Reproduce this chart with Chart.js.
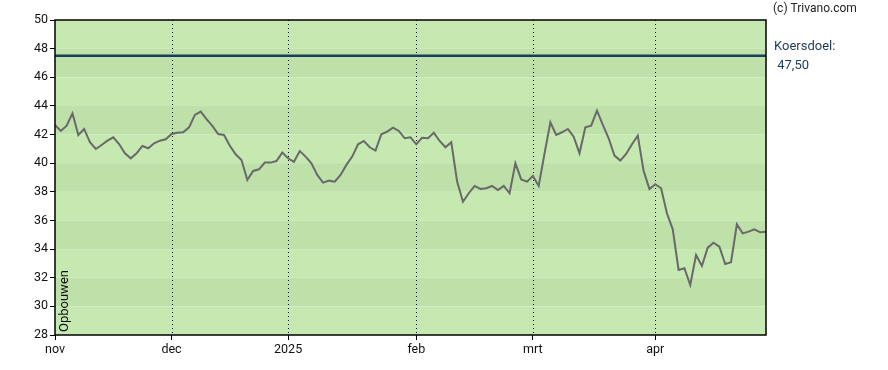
<!doctype html>
<html lang="nl">
  <head>
    <meta charset="UTF-8" />
    <title>Koersverloop</title>
    <script src="https://cdn.jsdelivr.net/npm/chart.js@4"></script>
    <style>
      body,
      html {
        margin: 0;
        padding: 0;
        background: #fff;
      }
      #wrap {
        width: 888px;
        height: 370px;
      }
    </style>
  </head>
  <body>
    <div id="wrap"><canvas id="koersChart" width="888" height="370"></canvas></div>
    <script>
      // slotkoersen per handelsdag, nov 2024 t/m eind apr 2025
      const closes = [
        42.67, 42.25, 42.62, 43.48, 41.97, 42.39, 41.46, 40.99, 41.27, 41.57,
        41.81, 41.34, 40.69, 40.34, 40.69, 41.2, 41.04, 41.39, 41.57, 41.67,
        42.04, 42.13, 42.16, 42.5, 43.37, 43.6, 43.07, 42.6, 42.04, 41.97,
        41.22, 40.62, 40.22, 38.83, 39.46, 39.57, 40.04, 40.04, 40.15, 40.74,
        40.34, 40.1, 40.85, 40.46, 39.99, 39.18, 38.64, 38.78, 38.71, 39.18,
        39.88, 40.46, 41.32, 41.55, 41.11, 40.88, 42.02, 42.2, 42.48, 42.25,
        41.74, 41.81, 41.32, 41.78, 41.74, 42.13, 41.55, 41.11, 41.46, 38.71,
        37.31, 37.9, 38.41, 38.2, 38.25, 38.41, 38.13, 38.41, 37.9, 39.99,
        38.87, 38.71, 39.11, 38.41, 40.69, 42.86, 41.97, 42.16, 42.39, 41.85,
        40.69, 42.5, 42.62, 43.67, 42.67, 41.74, 40.53, 40.18, 40.64, 41.32,
        41.92, 39.46, 38.2, 38.53, 38.25, 36.5, 35.38, 32.54, 32.66, 31.49,
        33.59, 32.82, 34.1, 34.45, 34.17, 32.96, 33.08, 35.73, 35.1, 35.22,
        35.38, 35.17, 35.22,
      ];
      // eerste handelsdag van elke maand (index in closes)
      const monthStarts = [0, 20, 40, 62, 82, 103];
      const monthLabels = ["nov", "dec", "2025", "feb", "mrt", "apr"];
      const koersdoel = 47.5;
      const yMin = 28;
      const yMax = 50;

      const bandLight = "#c6e9b2";
      const bandDark = "#bee0a9";

      // groene banden achter de grafiek
      const bandsPlugin = {
        id: "bands",
        beforeDraw(chart) {
          const { ctx, chartArea, scales } = chart;
          const y = scales.y;
          ctx.save();
          for (let v = yMax, i = 0; v > yMin; v -= 2, i++) {
            const top = y.getPixelForValue(v);
            const bottom = y.getPixelForValue(v - 2);
            ctx.fillStyle = i % 2 === 0 ? bandLight : bandDark;
            ctx.fillRect(chartArea.left, top, chartArea.right - chartArea.left, bottom - top);
          }
          ctx.restore();
        },
        beforeDatasetsDraw(chart) {
          // gestippelde maandlijnen
          const { ctx, chartArea, scales } = chart;
          ctx.save();
          ctx.strokeStyle = "#000";
          ctx.lineWidth = 1;
          ctx.setLineDash([1, 3]);
          monthStarts.forEach((m) => {
            if (m === 0) return;
            const x = Math.round(scales.x.getPixelForValue(m)) + 0.5;
            ctx.beginPath();
            ctx.moveTo(x, chartArea.top);
            ctx.lineTo(x, chartArea.bottom);
            ctx.stroke();
          });
          ctx.restore();
        },
        afterDraw(chart) {
          const { ctx, chartArea } = chart;
          ctx.save();
          // kader
          ctx.strokeStyle = "#000";
          ctx.lineWidth = 1.5;
          ctx.strokeRect(chartArea.left, chartArea.top, chartArea.right - chartArea.left, chartArea.bottom - chartArea.top);

          // teksten rechts
          ctx.textBaseline = "middle";
          ctx.textAlign = "left";
          ctx.font = "12px Roboto";
          ctx.fillStyle = "#222";
          ctx.fillText("(c) Trivano.com", chartArea.right + 7, 9);
          ctx.font = "13px Roboto";
          ctx.fillStyle = "#1e3a56";
          ctx.fillText("Koersdoel:", chartArea.right + 8, 47);
          ctx.fillText(" 47,50", chartArea.right + 8, 66);

          // verticale tekst
          ctx.translate(chartArea.left + 13, chartArea.bottom - 3);
          ctx.rotate(-Math.PI / 2);
          ctx.textBaseline = "alphabetic";
          ctx.fillStyle = "#111";
          ctx.font = "13px Roboto";
          ctx.fillText("Opbouwen", 0, 0);
          ctx.restore();
        },
      };

      new Chart(document.getElementById("koersChart"), {
        type: "line",
        data: {
          datasets: [
            {
              label: "Koersdoel",
              data: [
                { x: 0, y: koersdoel },
                { x: closes.length - 1, y: koersdoel },
              ],
              borderColor: "#1b3d5c",
              borderWidth: 2.5,
              pointRadius: 0,
            },
            {
              label: "Koers",
              data: closes.map((v, i) => ({ x: i, y: v })),
              borderColor: "#696969",
              borderWidth: 2,
              pointRadius: 0,
              tension: 0,
            },
          ],
        },
        options: {
          responsive: false,
          animation: false,
          layout: { padding: { top: 20, right: 122, left: 0, bottom: 0 } },
          plugins: {
            legend: { display: false },
            tooltip: { enabled: false },
          },
          scales: {
            x: {
              type: "linear",
              min: 0,
              max: closes.length - 1,
              afterBuildTicks: (scale) => {
                scale.ticks = monthStarts.map((m) => ({ value: m }));
              },
              afterFit: (scale) => {
                scale.height = 35;
              },
              ticks: {
                autoSkip: false,
                maxRotation: 0,
                color: "#111",
                font: { family: "Roboto", size: 12.5 },
                padding: 2,
                callback: (v) => monthLabels[monthStarts.indexOf(v)],
              },
              grid: {
                drawOnChartArea: false,
                color: "#000",
                tickLength: 5,
              },
              border: { display: false },
            },
            y: {
              min: yMin,
              max: yMax,
              afterFit: (scale) => {
                scale.width = 55;
              },
              ticks: {
                stepSize: 2,
                color: "#111",
                font: { family: "Roboto", size: 12.5 },
                padding: 2,
              },
              grid: {
                drawOnChartArea: false,
                color: "#000",
                tickLength: 5,
              },
              border: { display: false },
            },
          },
        },
        plugins: [bandsPlugin],
      });
    </script>
  </body>
</html>
